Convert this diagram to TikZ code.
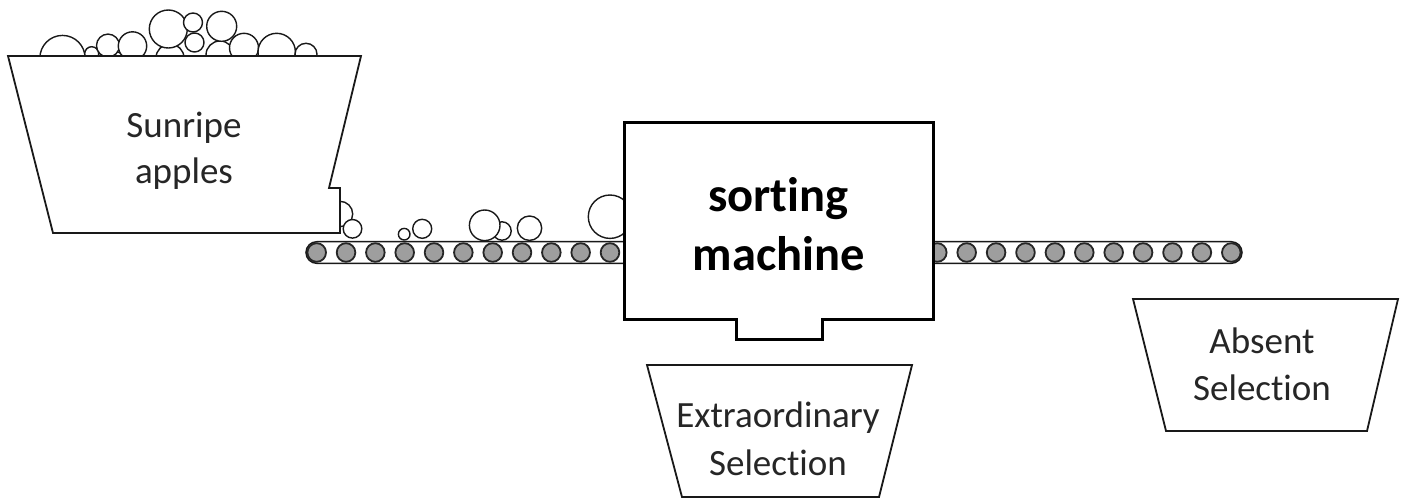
\documentclass[tikz,border=0pt]{standalone}
\usepackage{fontspec}
\setmainfont{Carlito}[Ligatures={NoCommon,NoContextual}]
\begin{document}
\begin{tikzpicture}[x=1pt,y=-1pt,
  apple/.style={draw=black!90,fill=white,line width=1.4pt},
  roller/.style={draw=black!85,fill=black!38,line width=1.8pt},
  belt/.style={draw=black!90,fill=white,line width=1.5pt,rounded corners=10.8pt},
  bin/.style={draw=black!90,fill=white,line width=1.8pt,line join=miter},
  machinebox/.style={draw=black,fill=white,line width=3pt,line join=miter},
  lbl/.style={anchor=base,inner sep=0pt,text=black!85,font=\fontsize{37}{46}\selectfont},
  blbl/.style={anchor=base,inner sep=0pt,text=black,font=\fontsize{48.5}{58}\selectfont\bfseries}
]
\useasboundingbox (0,0) rectangle (1403,499);
\fill[white] (0,0) rectangle (1403,499);

% apples in the hopper
\draw[apple] (170,58) circle (14);
\draw[apple] (220,55) circle (14);
\draw[apple] (117,58) circle (6);
\draw[apple] (62.5,58) circle (22.6);
\draw[apple] (91.7,53.7) circle (7);
\draw[apple] (108,45.6) circle (11.5);
\draw[apple] (132.5,46) circle (14.2);
\draw[apple] (168.3,29) circle (19);
\draw[apple] (193,22.5) circle (9.5);
\draw[apple] (194.5,42.5) circle (9.5);
\draw[apple] (221.7,26.3) circle (15);
\draw[apple] (244,47.8) circle (14.5);
\draw[apple] (276.7,52) circle (18.7);
\draw[apple] (306,54.3) circle (11);
% apple leaving the hopper
\draw[apple] (340,214) circle (12.7);

% hopper
\draw[bin] (8,56) -- (361,56) -- (329,188) -- (340,188) -- (340,233) -- (53,233) -- cycle;
\node[lbl] (sunripe) at (184,137.5) {Sunripe};
\node[lbl] (apples) at (184,183) {apples};

\draw[apple] (352.5,228.8) circle (9.3);

% conveyor belt
\draw[belt] (306,241.7) rectangle (1242,263.3);
\foreach \i in {0,...,10} {
  \draw[roller] (316.7+29.33*\i,252.5) circle (9.3);
  \draw[roller] (937.3+29.4*\i,252.5) circle (9.3);
}

% apples on the belt
\draw[apple] (404.2,234.2) circle (5.8);
\draw[apple] (422.2,228.8) circle (9.5);
\draw[apple] (502,231) circle (9.2);
\draw[apple] (484.7,225.3) circle (15.3);
\draw[apple] (529.5,228.2) circle (12.2);
\draw[apple] (610,216.7) circle (21.7);

% sorting machine
\draw[machinebox] (624,122) -- (933,122) -- (933,319) -- (822,319) -- (822,339)
  -- (736,339) -- (736,319) -- (624,319) -- cycle;
\node[blbl] (sorting) at (778.5,211.7) {sorting};
\node[blbl] (machine) at (779,270) {machine};

% bins
\draw[bin] (647,365) -- (912,365) -- (879,497) -- (682,497) -- cycle;
\node[lbl] (extra) at (778,427.7) {Extraordinary};
\node[lbl] (sel1) at (778,475) {Selection};

\draw[bin] (1133,299) -- (1398,299) -- (1367,431) -- (1166,431) -- cycle;
\node[lbl] (absent) at (1262,353.3) {Absent};
\node[lbl] (sel2) at (1262,400.7) {Selection};
\end{tikzpicture}
\end{document}
